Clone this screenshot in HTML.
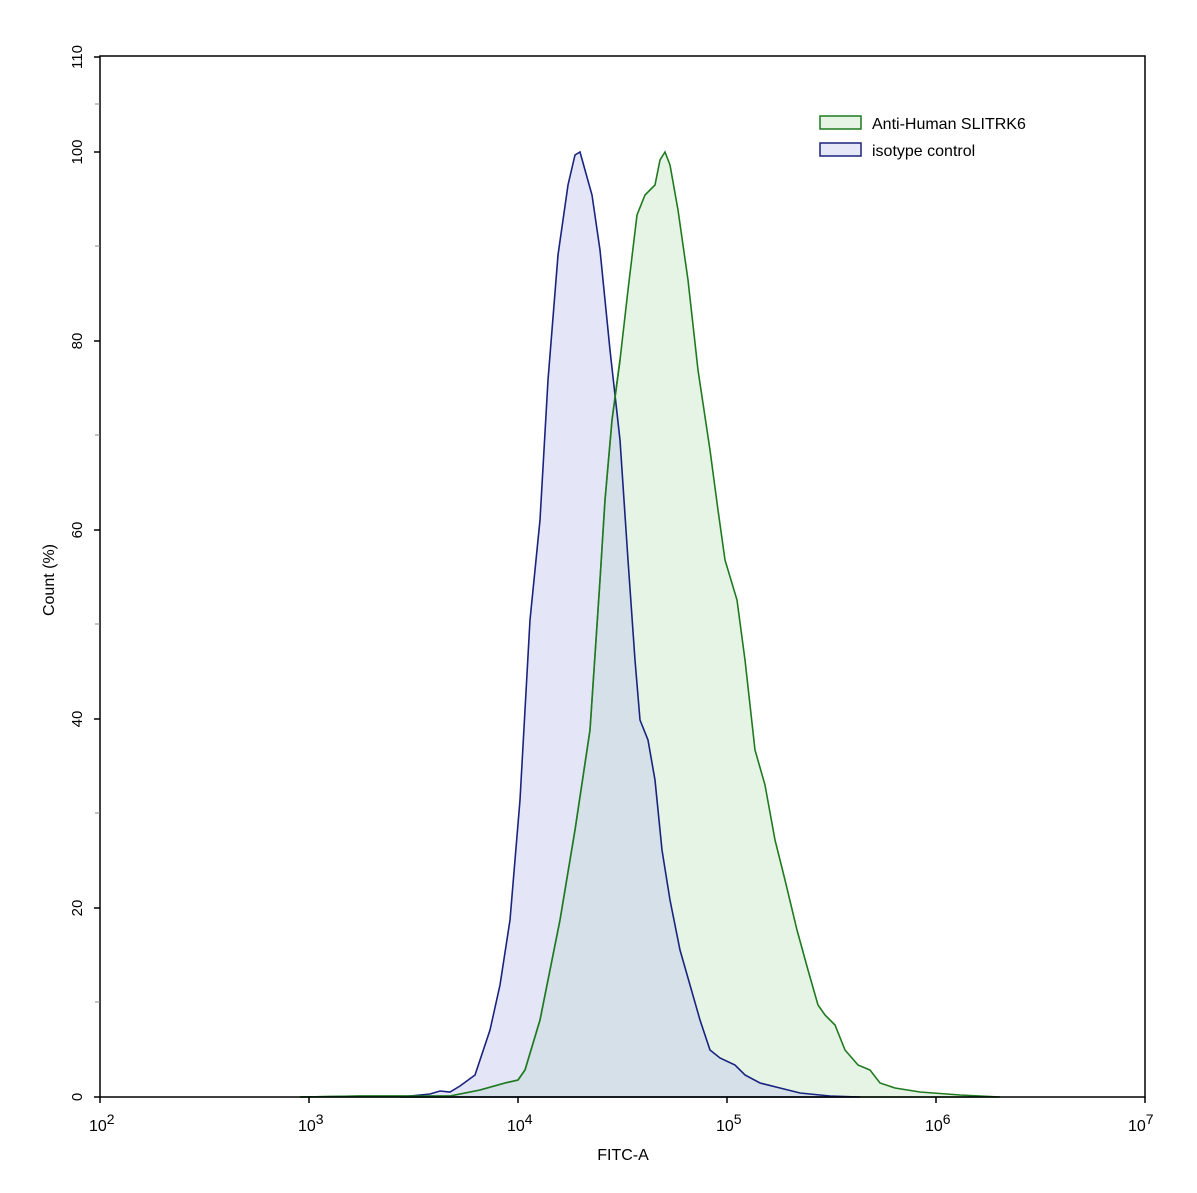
<!DOCTYPE html>
<html><head><style>body{margin:0;background:#fff}svg{display:block}</style></head><body>
<svg width="1197" height="1193" xmlns="http://www.w3.org/2000/svg" font-family="Liberation Sans, sans-serif">
<rect width="1197" height="1193" fill="#fff"/>
<path id="g" d="M300,1097 L360,1096 L450,1096 L480,1090 L505,1083 L518,1080 L525,1070 L540,1020 L560,920 L575,830 L590,730 L600,580 L605,500 L612,420 L620,360 L628,290 L637,215 L645,195 L655,185 L660,160 L665,152 L670,165 L678,210 L688,280 L698,370 L710,450 L718,510 L725,560 L737,600 L745,660 L755,750 L765,785 L775,840 L785,880 L797,930 L808,970 L818,1005 L825,1015 L835,1025 L845,1050 L858,1065 L870,1070 L880,1083 L895,1088 L920,1092 L960,1095 L1000,1097 Z" fill="rgba(170,220,170,0.3)" stroke="#1f7a1f" stroke-width="1.6"/>
<path d="M400,1097 L430,1094 L440,1091 L450,1092 L460,1086 L475,1075 L490,1030 L500,985 L510,920 L520,800 L530,620 L540,520 L548,380 L558,255 L568,185 L575,155 L580,152 L585,170 L592,195 L600,250 L610,350 L620,440 L628,560 L635,660 L640,720 L648,740 L655,780 L662,850 L670,900 L680,950 L690,985 L700,1020 L710,1050 L720,1058 L735,1065 L745,1075 L760,1083 L780,1088 L800,1093 L830,1096 L860,1097 Z" fill="rgba(190,195,235,0.42)" stroke="#1a237e" stroke-width="1.6"/>
<path d="M300,1097 L360,1096 L450,1096 L480,1090 L505,1083 L518,1080 L525,1070 L540,1020 L560,920 L575,830 L590,730 L600,580 L605,500 L612,420 L620,360" fill="none" stroke="#1f7a1f" stroke-width="1.6"/>
<rect x="100" y="56" width="1045" height="1041" fill="none" stroke="#000" stroke-width="1.5"/>
<g stroke="#000" stroke-width="1.5">
<line x1="94" y1="1097" x2="100" y2="1097"/><line x1="94" y1="908" x2="100" y2="908"/><line x1="94" y1="719" x2="100" y2="719"/><line x1="94" y1="530" x2="100" y2="530"/><line x1="94" y1="341" x2="100" y2="341"/><line x1="94" y1="152" x2="100" y2="152"/><line x1="94" y1="57" x2="100" y2="57"/>
<line x1="100" y1="1097" x2="100" y2="1103"/><line x1="309" y1="1097" x2="309" y2="1103"/><line x1="518" y1="1097" x2="518" y2="1103"/><line x1="727" y1="1097" x2="727" y2="1103"/><line x1="936" y1="1097" x2="936" y2="1103"/><line x1="1145" y1="1097" x2="1145" y2="1103"/>
</g>
<g stroke="#888" stroke-width="1">
<line x1="95" y1="1002" x2="100" y2="1002"/><line x1="95" y1="813" x2="100" y2="813"/><line x1="95" y1="624" x2="100" y2="624"/><line x1="95" y1="435" x2="100" y2="435"/><line x1="95" y1="246" x2="100" y2="246"/><line x1="95" y1="104" x2="100" y2="104"/>
</g>
<g font-size="15" fill="#000">
<text x="82" y="1097" transform="rotate(-90 82 1097)" text-anchor="middle">0</text>
<text x="82" y="908" transform="rotate(-90 82 908)" text-anchor="middle">20</text>
<text x="82" y="719" transform="rotate(-90 82 719)" text-anchor="middle">40</text>
<text x="82" y="530" transform="rotate(-90 82 530)" text-anchor="middle">60</text>
<text x="82" y="341" transform="rotate(-90 82 341)" text-anchor="middle">80</text>
<text x="82" y="152" transform="rotate(-90 82 152)" text-anchor="middle">100</text>
<text x="82" y="57" transform="rotate(-90 82 57)" text-anchor="middle">110</text>
<text x="54" y="580" transform="rotate(-90 54 580)" text-anchor="middle" font-size="16">Count  (%)</text>
</g>
<g font-size="16" fill="#000">
<text x="89" y="1131">10<tspan dy="-7" font-size="14">2</tspan></text>
<text x="298" y="1131">10<tspan dy="-7" font-size="14">3</tspan></text>
<text x="507" y="1131">10<tspan dy="-7" font-size="14">4</tspan></text>
<text x="716" y="1131">10<tspan dy="-7" font-size="14">5</tspan></text>
<text x="925" y="1131">10<tspan dy="-7" font-size="14">6</tspan></text>
<text x="1128" y="1131">10<tspan dy="-7" font-size="14">7</tspan></text>
<text x="623" y="1160" text-anchor="middle">FITC-A</text>
</g>
<rect x="820" y="116" width="41" height="13" fill="#e6f4e6" stroke="#1f7a1f" stroke-width="1.5"/>
<rect x="820" y="143" width="41" height="13" fill="#e6e8f8" stroke="#1a237e" stroke-width="1.5"/>
<text x="872" y="129" font-size="16">Anti-Human SLITRK6</text>
<text x="872" y="156" font-size="16">isotype control</text>
</svg>
</body></html>
